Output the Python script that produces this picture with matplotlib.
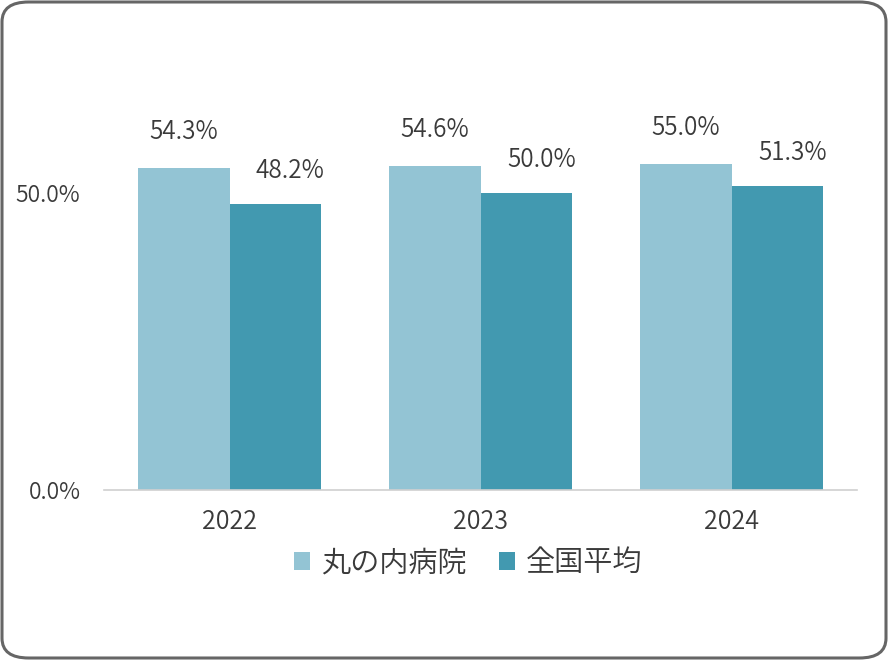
import matplotlib.pyplot as plt
import numpy as np
from matplotlib.patches import FancyBboxPatch

plt.rcParams['font.family'] = ['Noto Sans CJK JP', 'DejaVu Sans']
plt.rcParams['font.weight'] = 350

years = ['2022', '2023', '2024']
marunouchi = [54.3, 54.6, 55.0]
national = [48.2, 50.0, 51.3]
series_names = ['丸の内病院', '全国平均']
colors = ['#93C4D4', '#4299B0']
text_color = '#3A3A3A'

fig = plt.figure(figsize=(8.88, 6.60), dpi=100)
W, H = 888, 660

# rounded gray frame around the chart
frame = FancyBboxPatch((2 / W, 2 / H), 884 / W, 656 / H,
                       boxstyle='round,pad=0,rounding_size=0.03',
                       transform=fig.transFigure, facecolor='white',
                       edgecolor='#666666', linewidth=2.2, zorder=-5)
fig.patches.append(frame)

ax = fig.add_axes([104 / W, (H - 490) / H, 753 / W, 430 / H])
ax.patch.set_alpha(0)

x = np.arange(len(years))
w = 0.365
b1 = ax.bar(x - w / 2, marunouchi, w, color=colors[0], label=series_names[0])
b2 = ax.bar(x + w / 2, national, w, color=colors[1], label=series_names[1])

for rect, v in zip(b1, marunouchi):
    ax.annotate(f'{v:.1f}%', (rect.get_x() + rect.get_width() / 2, v),
                xytext=(0, 36), textcoords='offset pixels', ha='center',
                va='center', fontsize=17.5, color=text_color)
for rect, v in zip(b2, national):
    ax.annotate(f'{v:.1f}%', (rect.get_x() + rect.get_width() / 2, v),
                xytext=(15, 33), textcoords='offset pixels', ha='center',
                va='center', fontsize=17.5, color=text_color)

ax.set_xlim(-0.5, 2.5)
ax.set_ylim(0, 72.5)
ax.set_yticks([0, 50])
ax.set_yticklabels(['0.0%', '50.0%'])
ax.set_xticks(x)
ax.set_xticklabels(years)
ax.tick_params(axis='both', length=0, colors=text_color)
ax.tick_params(axis='y', pad=17, labelsize=16.5)
ax.tick_params(axis='x', pad=14, labelsize=18)
for s in ['top', 'right', 'left']:
    ax.spines[s].set_visible(False)
ax.spines['bottom'].set_color('#D0D0D0')
ax.spines['bottom'].set_linewidth(1.2)

leg = ax.legend(loc='center', bbox_to_anchor=(0.484, -0.17), ncol=2,
                frameon=False, fontsize=21, handlelength=0.55,
                handleheight=0.55, handletextpad=0.38, columnspacing=1.1)
for t in leg.get_texts():
    t.set_color(text_color)

fig.savefig('out.png', dpi=100)
